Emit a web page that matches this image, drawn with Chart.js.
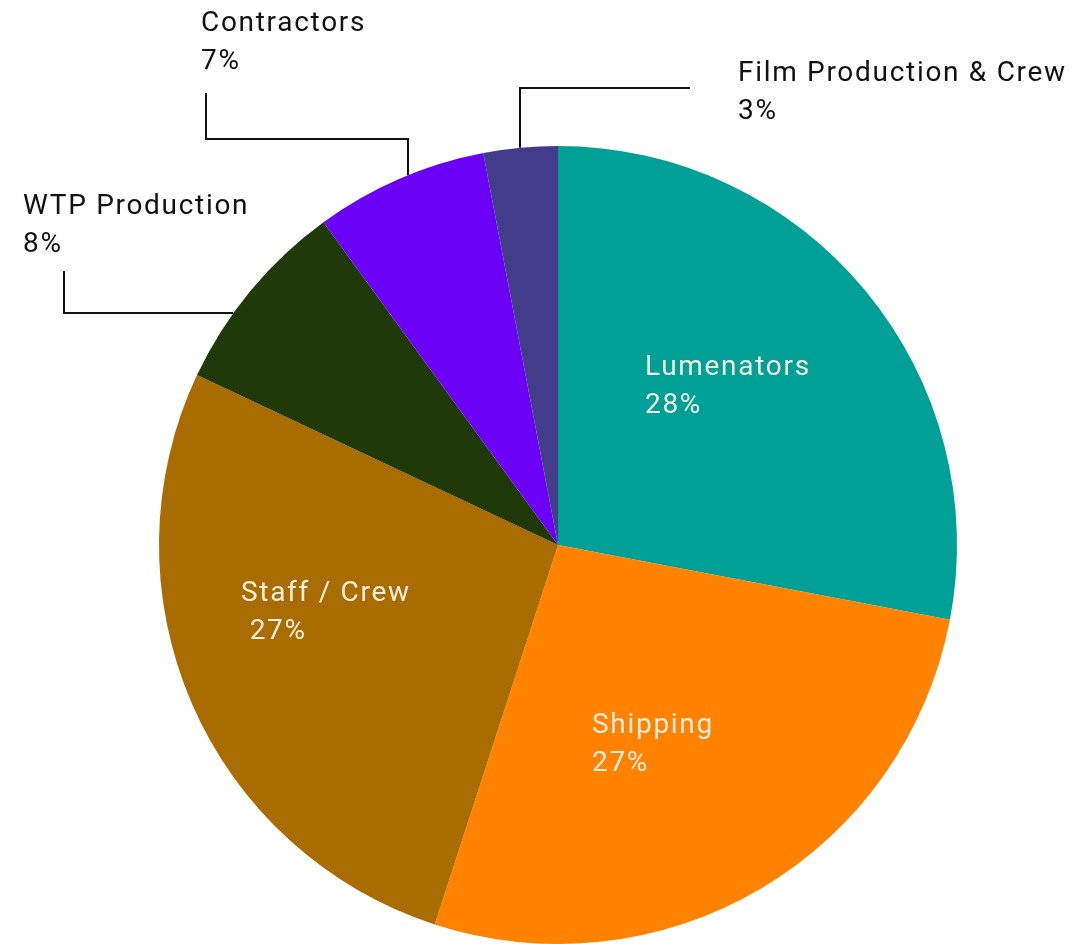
<!DOCTYPE html>
<html>
<head>
<meta charset="utf-8">
<title>Budget breakdown</title>
<script src="https://cdn.jsdelivr.net/npm/chart.js@4.4.1/dist/chart.umd.min.js"></script>
<style>
  html, body { margin: 0; padding: 0; background: #fff; }
  #wrap { width: 1075px; height: 944px; }
</style>
</head>
<body>
<div id="wrap"><canvas id="pie" width="1075" height="944"></canvas></div>
<script>
// slices, clockwise from 12 o'clock
const categories = ['Lumenators', 'Shipping', 'Staff / Crew', 'WTP Production', 'Contractors', 'Film Production & Crew'];
const shares = [28, 27, 27, 8, 7, 3];
const sliceColors = ['#00A096', '#FF8200', '#A86C00', '#1F3A08', '#6A00F5', '#433C8A'];

// where each caption sits, relative to the pie centre
// leader: 'v' = drops straight onto the rim at x, 'h' = runs across to the rim at y
const captionSpots = [
  { dx: 87,   dy: -179, inside: true },
  { dx: 34,   dy: 179,  inside: true },
  { dx: -317, dy: 47,   inside: true, pad: ' ' },
  { dx: -535, dy: -340, leader: { sx: -494, sy: -274, mode: 'h', at: -232 } },
  { dx: -357, dy: -523, leader: { sx: -352, sy: -452, mode: 'v', mid: -406, at: -150 } },
  { dx: 180,  dy: -473, leader: { sx: 132,  sy: -457, mode: 'v', at: -38 } }
];

const FONT = '400 28px Roboto, "DejaVu Sans", sans-serif';
const LINE_GAP = 38;

const captionPlugin = {
  id: 'captions',
  afterDatasetsDraw(chart) {
    const ctx = chart.ctx;
    const arcs = chart.getDatasetMeta(0).data;
    if (!arcs.length) return;
    const { x: cx, y: cy, outerRadius: r } = arcs[0].getProps(['x', 'y', 'outerRadius'], true);

    ctx.save();
    ctx.font = FONT;
    ctx.textAlign = 'left';
    ctx.textBaseline = 'middle';
    if ('letterSpacing' in ctx) ctx.letterSpacing = '1.7px';

    captionSpots.forEach((spot, i) => {
      const tx = cx + spot.dx;
      const ty = cy + spot.dy + 2;
      ctx.fillStyle = spot.inside ? '#F3EEDF' : '#111111';
      ctx.fillText(categories[i], tx, ty);
      ctx.fillText((spot.pad || '') + shares[i] + '%', tx, ty + LINE_GAP);

      const ld = spot.leader;
      if (!ld) return;
      ctx.beginPath();
      ctx.strokeStyle = '#111111';
      ctx.lineWidth = 2;
      const sx = cx + ld.sx, sy = cy + ld.sy;
      ctx.moveTo(sx, sy);
      if (ld.mode === 'h') {
        const y = cy + ld.at;
        const x = cx - Math.sqrt(r * r - ld.at * ld.at);
        ctx.lineTo(sx, y);
        ctx.lineTo(x, y);
      } else {
        const x = cx + ld.at;
        const y = cy - Math.sqrt(r * r - ld.at * ld.at);
        if (ld.mid !== undefined) {
          ctx.lineTo(sx, cy + ld.mid);
          ctx.lineTo(x, cy + ld.mid);
        } else {
          ctx.lineTo(x, sy);
        }
        ctx.lineTo(x, y);
      }
      ctx.stroke();
    });
    ctx.restore();
  }
};

new Chart(document.getElementById('pie'), {
  type: 'pie',
  data: {
    labels: categories,
    datasets: [{
      data: shares,
      backgroundColor: sliceColors,
      borderWidth: 0
    }]
  },
  options: {
    responsive: false,
    animation: false,
    layout: { padding: { left: 159, right: 118, top: 146, bottom: 0 } },
    plugins: {
      legend: { display: false },
      tooltip: { enabled: false }
    }
  },
  plugins: [captionPlugin]
});
</script>
</body>
</html>
